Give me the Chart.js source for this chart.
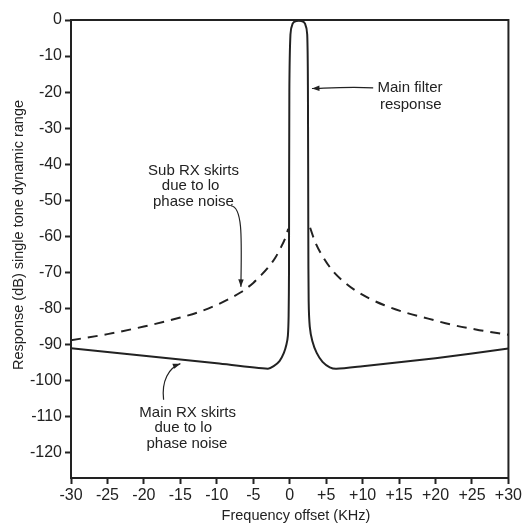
<!DOCTYPE html>
<html>
<head>
<meta charset="utf-8">
<script src="https://cdn.jsdelivr.net/npm/chart.js@4.4.1/dist/chart.umd.min.js"></script>
<style>
  html, body { margin: 0; padding: 0; background: #fff; }
</style>
</head>
<body>
<canvas id="grafico" width="524" height="523"></canvas>
<script>
// Ejes
const xTicks = [-30, -25, -20, -15, -10, -5, 0, 5, 10, 15, 20, 25, 30];
const xTickLabels = ['-30', '-25', '-20', '-15', '-10', '-5', '0', '+5', '+10', '+15', '+20', '+25', '+30'];
const yTicks = [0, -10, -20, -30, -40, -50, -60, -70, -80, -90, -100, -110, -120];

// Respuesta del filtro principal + faldones RX (linea continua)
const mainX = [-30, -20, -10, -3.0, -2.2, -1.4, -0.8, -0.45, -0.25, -0.15, -0.1, -0.05, 0.1, 0.4, 0.9, 1.6, 2.1, 2.4, 2.5, 2.55, 2.6, 2.75, 3.1, 3.7, 4.5, 5.5, 6.4, 10, 20, 30];
const mainY = [-91, -93.1, -95.2, -96.7, -96.0, -94.6, -92.3, -90, -87.5, -82, -70, -20, -4, -1, -0.3, -0.3, -1, -4, -20, -60, -78, -85, -89, -92.3, -94.8, -96.3, -96.7, -96.0, -93.8, -91.1];

// Faldones sub RX (linea discontinua), lado izquierdo y derecho
const subLeftX = [-30, -25, -20, -15, -12.5, -10, -8, -6.7, -5, -4, -3, -2, -1.25, -0.6, -0.2];
const subLeftY = [-88.8, -87.1, -85.0, -82.5, -81.0, -79.0, -77.0, -75.5, -72.9, -70.9, -68.7, -66.0, -63.2, -60.4, -57.9];
const subRightX = [2.8, 3.5, 4.6, 6, 7.5, 9, 10.9, 13, 16, 19, 22, 26, 30];
const subRightY = [-57.6, -61.6, -65.8, -69.8, -72.7, -75.0, -77.2, -79.1, -81.2, -82.8, -84.4, -86.0, -87.3];

// Textos y flechas (en coordenadas de datos)
const notas = [
    { x: 16.5, y: -18.8, text: 'Main filter' },
    { x: 16.6, y: -23.5, text: 'response' },
    { x: -13.2, y: -41.7, text: 'Sub RX skirts' },
    { x: -13.6, y: -46.0, text: 'due to lo' },
    { x: -13.2, y: -50.3, text: 'phase noise' },
    { x: -14.0, y: -108.8, text: 'Main RX skirts' },
    { x: -14.6, y: -113.2, text: 'due to lo' },
    { x: -14.1, y: -117.5, text: 'phase noise' }
];
const flechas = [
    [[11.45, -18.8], [8, -18.4], [5, -18.9], [3.05, -19.0]],
    [[-8.07, -51.5], [-6.4, -51.8], [-6.6, -61], [-6.7, -74]],
    [[-17.3, -105.3], [-17.6, -100], [-16.6, -96.5], [-15.0, -95.3]]
];

const toPts = (xs, ys) => xs.map((x, i) => ({ x: x, y: ys[i] }));
const fuente = '"Liberation Sans", Arial, sans-serif';
const tinta = '#222';

const extras = {
    id: 'extras',
    afterDraw(chart) {
        const { ctx, chartArea: a, scales } = chart;
        const sx = v => scales.x.getPixelForValue(v);
        const sy = v => scales.y.getPixelForValue(v);
        ctx.save();
        // marco
        ctx.strokeStyle = tinta;
        ctx.lineWidth = 2;
        ctx.strokeRect(a.left, a.top, a.right - a.left, a.bottom - a.top);

        // notas
        ctx.fillStyle = tinta;
        ctx.font = '15px ' + fuente;
        ctx.textAlign = 'center';
        ctx.textBaseline = 'middle';
        notas.forEach(n => ctx.fillText(n.text, sx(n.x), sy(n.y)));

        // flechas
        ctx.lineWidth = 1.2;
        flechas.forEach(f => {
            const p = f.map(q => [sx(q[0]), sy(q[1])]);
            ctx.beginPath();
            ctx.moveTo(p[0][0], p[0][1]);
            ctx.bezierCurveTo(p[1][0], p[1][1], p[2][0], p[2][1], p[3][0], p[3][1]);
            ctx.stroke();
            const ang = Math.atan2(p[3][1] - p[2][1], p[3][0] - p[2][0]);
            ctx.beginPath();
            ctx.moveTo(p[3][0], p[3][1]);
            ctx.lineTo(p[3][0] - 8 * Math.cos(ang - 0.35), p[3][1] - 8 * Math.sin(ang - 0.35));
            ctx.lineTo(p[3][0] - 8 * Math.cos(ang + 0.35), p[3][1] - 8 * Math.sin(ang + 0.35));
            ctx.closePath();
            ctx.fill();
        });

        // titulos de ejes
        ctx.font = '14.5px ' + fuente;
        ctx.fillText('Frequency offset (KHz)', 296, 516);
        ctx.translate(19, 235);
        ctx.rotate(-Math.PI / 2);
        ctx.fillText('Response (dB) single tone dynamic range', 0, 0);
        ctx.restore();
    }
};

new Chart(document.getElementById('grafico'), {
    type: 'line',
    data: {
        datasets: [
            { data: toPts(mainX, mainY), borderColor: tinta, borderWidth: 2, pointRadius: 0, tension: 0.25, fill: false },
            { data: toPts(subLeftX, subLeftY), borderColor: tinta, borderWidth: 2, borderDash: [10, 7], pointRadius: 0, cubicInterpolationMode: 'monotone', fill: false },
            { data: toPts(subRightX, subRightY), borderColor: tinta, borderWidth: 2, borderDash: [10, 7], pointRadius: 0, cubicInterpolationMode: 'monotone', fill: false }
        ]
    },
    options: {
        responsive: false,
        animation: false,
        devicePixelRatio: 1,
        layout: { padding: { top: 20, right: 10, left: 0, bottom: 0 } },
        plugins: { legend: { display: false }, tooltip: { enabled: false } },
        scales: {
            x: {
                type: 'linear', min: -30, max: 30,
                afterBuildTicks: s => { s.ticks = xTicks.map(v => ({ value: v })); },
                afterFit: s => { s.height = 45; },
                ticks: {
                    autoSkip: false, maxRotation: 0, padding: 2, color: tinta,
                    font: { family: fuente, size: 16 },
                    callback: v => xTickLabels[xTicks.indexOf(v)]
                },
                grid: { drawOnChartArea: false, drawTicks: true, tickLength: 6, tickColor: tinta, tickWidth: 2 },
                border: { color: tinta, width: 2 }
            },
            y: {
                type: 'linear', min: -127, max: 0,
                afterBuildTicks: s => { s.ticks = yTicks.map(v => ({ value: v })); },
                afterFit: s => { s.width = 71; },
                ticks: { padding: 3, color: tinta, font: { family: fuente, size: 16 } },
                grid: { drawOnChartArea: false, drawTicks: true, tickLength: 6, tickColor: tinta, tickWidth: 2 },
                border: { color: tinta, width: 2 }
            }
        }
    },
    plugins: [extras]
});
</script>
</body>
</html>
